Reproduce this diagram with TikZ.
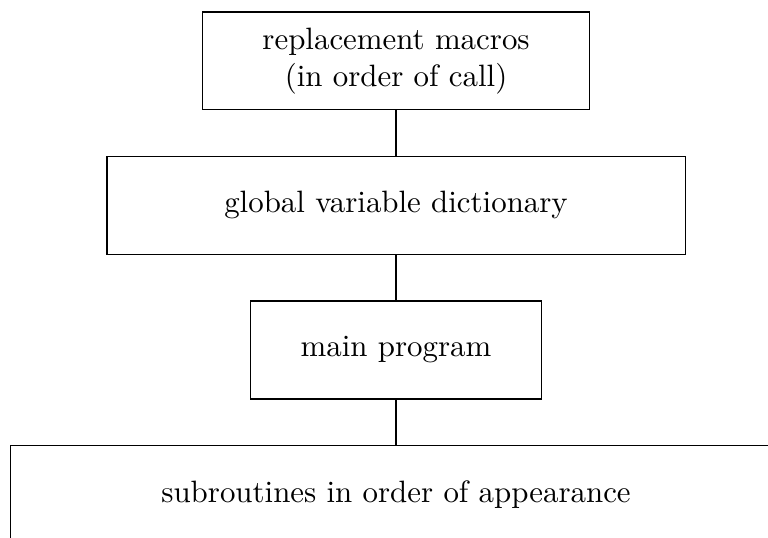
\documentclass[tikz,border=0pt]{standalone}
\usetikzlibrary{positioning}

\begin{document}
\begin{tikzpicture}[node distance=14.7pt,
	block/.style={rectangle, draw, minimum height=31.7pt, align=center}]

	\useasboundingbox (-128.2pt,19.7pt) rectangle (120.4pt,-154.4pt);
	\clip (-128.2pt,19.7pt) rectangle (120.4pt,-154.4pt);

	\node[block, minimum width=125.1pt] (macros) {replacement macros\\(in order of call)};
	\node[block, minimum width=187.2pt] (globals) [below=of macros] {global variable dictionary};
	\node[block, minimum width=94.2pt] (main) [below=of globals] {main program};
	\node[block, minimum width=249.4pt] (subs) [below=of main] {subroutines in order of appearance};

	\draw (macros) -- (globals);
	\draw (globals) -- (main);
	\draw (main) -- (subs);
\end{tikzpicture}
\end{document}
